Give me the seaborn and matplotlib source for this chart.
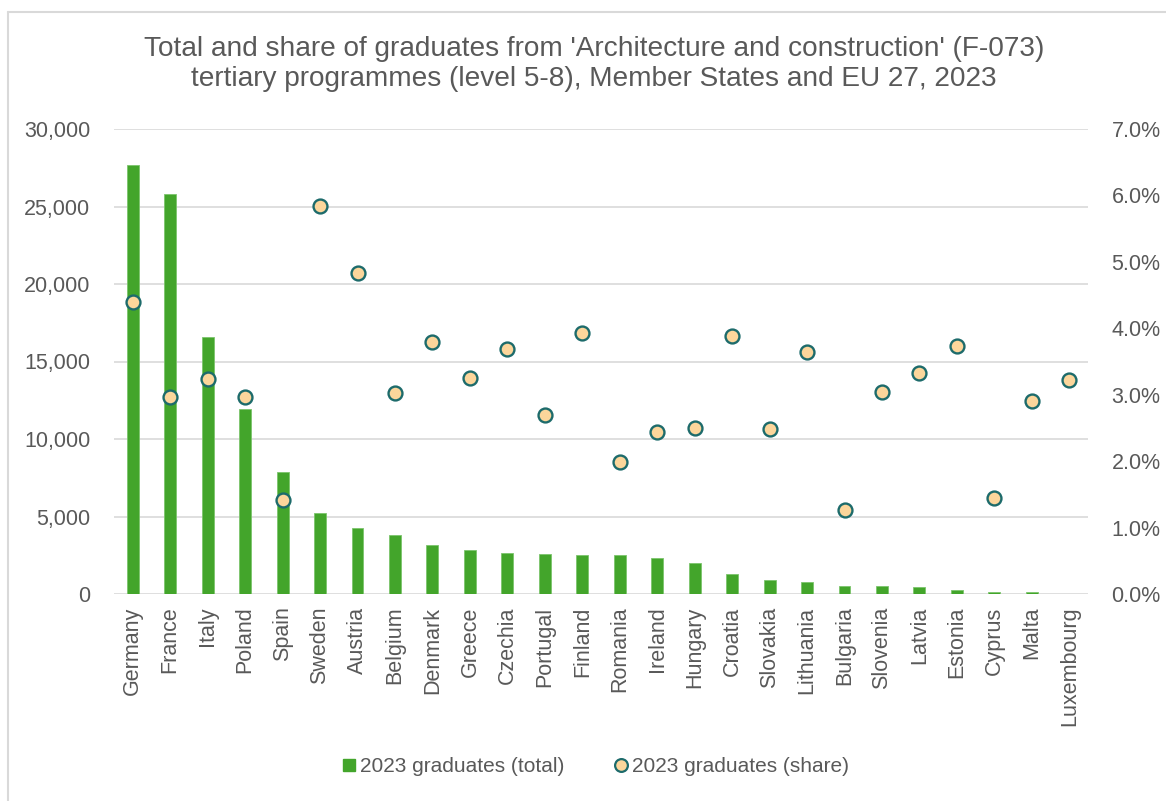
import matplotlib
matplotlib.use("Agg")
import matplotlib.pyplot as plt
from matplotlib.lines import Line2D
from matplotlib.ticker import FuncFormatter, MultipleLocator
import numpy as np
import pandas as pd
import seaborn as sns

countries = ["Germany", "France", "Italy", "Poland", "Spain", "Sweden", "Austria",
             "Belgium", "Denmark", "Greece", "Czechia", "Portugal", "Finland",
             "Romania", "Ireland", "Hungary", "Croatia", "Slovakia", "Lithuania",
             "Bulgaria", "Slovenia", "Latvia", "Estonia", "Cyprus", "Malta",
             "Luxembourg"]
graduates_total = [27650, 25800, 16580, 11950, 7900, 5230, 4280, 3800, 3160, 2870,
                   2650, 2580, 2520, 2500, 2350, 1980, 1260, 880, 800, 520,
                   490, 430, 290, 150, 100, 30]
graduates_share = [4.40, 2.96, 3.24, 2.97, 1.42, 5.84, 4.83, 3.03, 3.79, 3.25,
                   3.69, 2.69, 3.93, 1.99, 2.44, 2.50, 3.88, 2.48, 3.64, 1.26,
                   3.04, 3.33, 3.73, 1.45, 2.91, 3.22]

df = pd.DataFrame({"country": countries,
                   "total": graduates_total,
                   "share": graduates_share})

sns.set_theme(style="white")
plt.rcParams["font.family"] = ["Liberation Sans", "DejaVu Sans"]

text_grey = "#595959"
grid_grey = "#D9D9D9"
bar_green = "#43A52B"
dot_fill = "#FCD69B"
dot_edge = "#1D6B6B"

W, H = 1166, 801
fig = plt.figure(figsize=(W / 100, H / 100), dpi=100)
ax = fig.add_axes([114 / W, 1 - 594 / H, (1088 - 114) / W, (594 - 129) / H])

sns.barplot(data=df, x="country", y="total", color=bar_green, width=0.32,
            saturation=1, edgecolor="#7CC46C", linewidth=0.6, ax=ax, zorder=2)

ax.set_ylim(0, 30000)
ax.yaxis.set_major_locator(MultipleLocator(5000))
ax.yaxis.set_major_formatter(FuncFormatter(lambda v, p: f"{int(v):,}"))
ax.grid(axis="y", color=grid_grey, linewidth=1.2, zorder=0)
ax.set_axisbelow(True)
for s in ax.spines.values():
    s.set_visible(False)
ax.set_xlabel("")
ax.set_ylabel("")
ax.tick_params(axis="y", length=0, pad=17, labelsize=15.5, labelcolor=text_grey)
ax.tick_params(axis="x", length=0, pad=9, labelsize=15.5, labelcolor=text_grey,
               labelrotation=90)

ax2 = ax.twinx()
sns.scatterplot(data=df, x="country", y="share", s=100, color=dot_fill,
                edgecolor=dot_edge, linewidth=1.7, ax=ax2, zorder=3, legend=False)
ax2.set_ylim(0, 7)
ax2.yaxis.set_major_locator(MultipleLocator(1))
ax2.yaxis.set_major_formatter(FuncFormatter(lambda v, p: f"{v:.1f}%"))
for s in ax2.spines.values():
    s.set_visible(False)
ax2.set_ylabel("")
ax2.tick_params(axis="y", length=0, pad=17, labelsize=15.5, labelcolor=text_grey)
ax.set_xlim(-0.5, len(countries) - 0.5)

fig.text(594 / W, 1 - 64 / H,
         "Total and share of graduates from 'Architecture and construction' (F-073)\n"
         "tertiary programmes (level 5-8), Member States and EU 27, 2023",
         ha="center", va="center", fontsize=20.2, color=text_grey, linespacing=1.15)

handles = [
    Line2D([], [], marker="s", linestyle="none", markersize=8.6,
           markerfacecolor=bar_green, markeredgecolor=bar_green),
    Line2D([], [], marker="o", linestyle="none", markersize=9.2,
           markerfacecolor=dot_fill, markeredgecolor=dot_edge, markeredgewidth=1.6),
]
fig.legend(handles, ["2023 graduates (total)", "2023 graduates (share)"],
           loc="center", bbox_to_anchor=(594 / W, 1 - 767 / H), ncol=2,
           frameon=False, fontsize=15, labelcolor=text_grey, handletextpad=0.05,
           columnspacing=2.2, handlelength=1.0)

# figure frame
fig.add_artist(Line2D([7.5 / W, 7.5 / W], [0, 1 - 12 / H],
                      color=grid_grey, linewidth=1.5, transform=fig.transFigure))
fig.add_artist(Line2D([7.5 / W, 1], [1 - 12 / H, 1 - 12 / H],
                      color=grid_grey, linewidth=1.5, transform=fig.transFigure))

fig.savefig("out.png", dpi=100, facecolor="white")
